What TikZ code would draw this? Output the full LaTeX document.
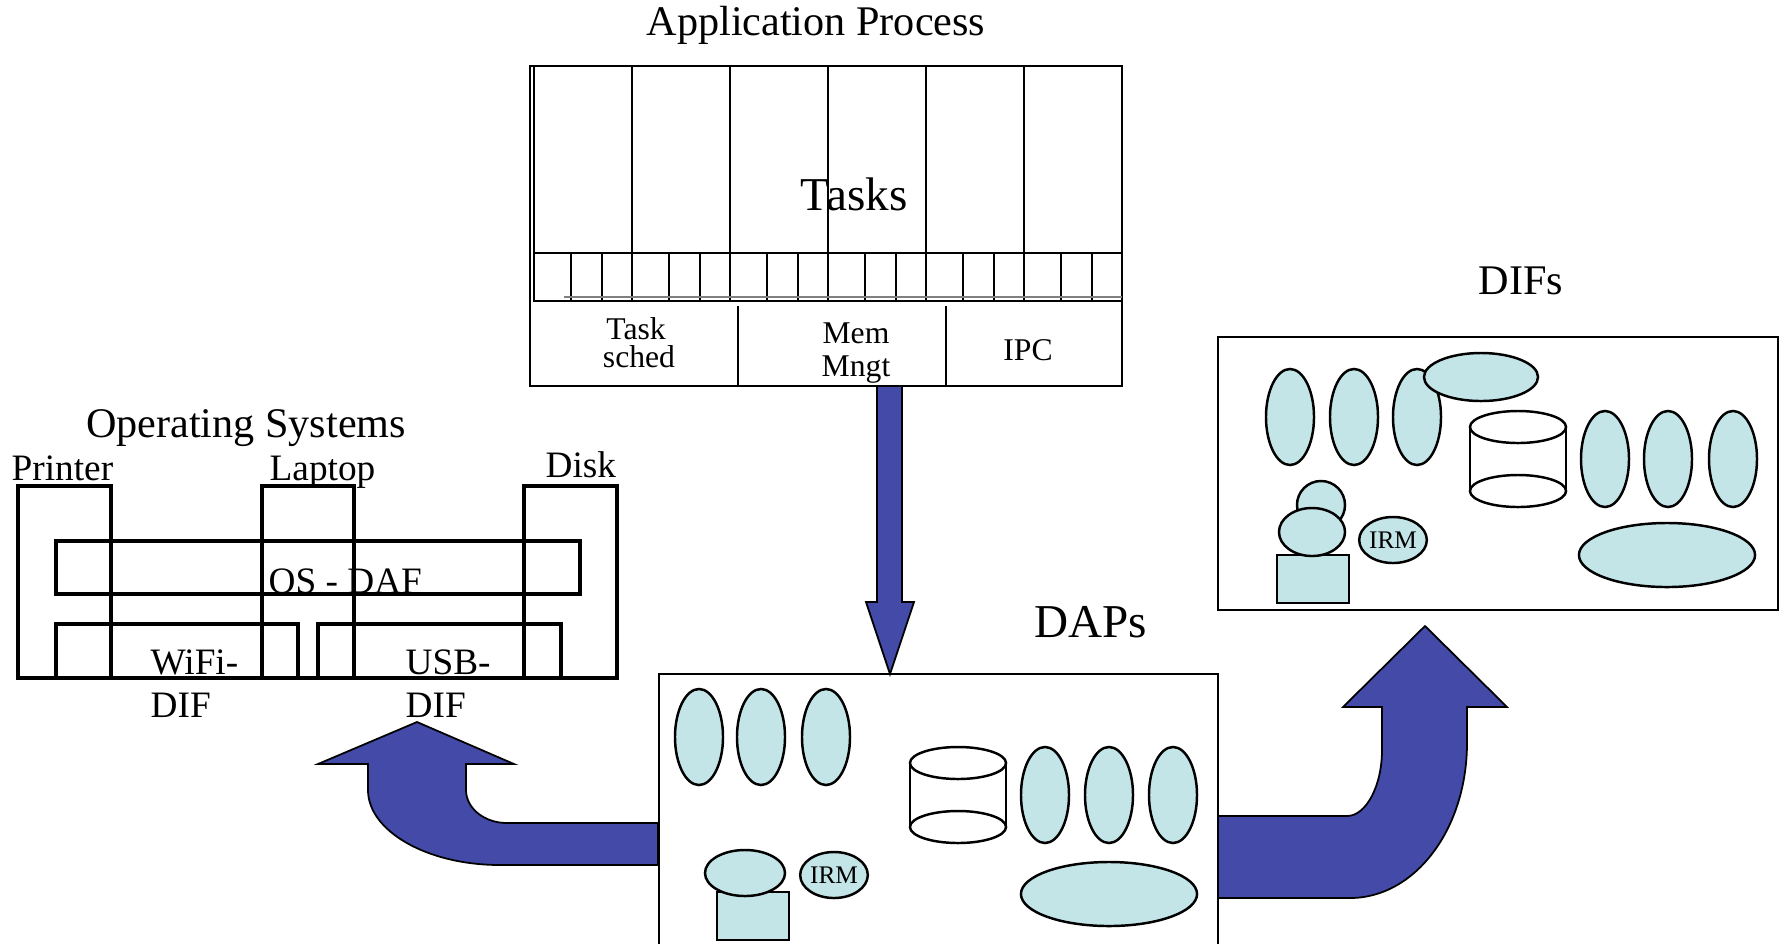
\documentclass[tikz,border=0pt]{standalone}
\usepackage{fontspec}
\setmainfont{Liberation Serif}
\usetikzlibrary{positioning,shapes.geometric}
\definecolor{arrowblue}{RGB}{67,74,168}
\definecolor{blobcyan}{RGB}{196,229,232}
\tikzset{
 frame/.style={draw=black,line width=0.7pt},
 osbox/.style={draw=black,line width=1.2pt},
 blob/.style={draw=black,line width=0.7pt,fill=blobcyan},
 drum/.style={draw=black,line width=0.7pt,fill=white},
 bigarrow/.style={draw=black,line width=0.5pt,fill=arrowblue},
 lbl/.style={inner sep=0pt,anchor=base},
 lblw/.style={inner sep=0pt,anchor=base west},
 big/.style={font=\fontsize{13.4}{15}\selectfont},
 head/.style={font=\fontsize{12}{14}\selectfont},
 dev/.style={font=\fontsize{10.6}{12}\selectfont},
 small/.style={font=\fontsize{9}{10}\selectfont},
 irm/.style={ellipse,blob,inner sep=0pt,minimum width=0.64cm,minimum height=0.46cm,font=\fontsize{7.2}{8}\selectfont}}

\begin{document}
\begin{tikzpicture}[x=0.01cm,y=-0.01cm]
\useasboundingbox (0,0) rectangle (1781,944);
% application process
\node[lbl,head] (aptitle) at (816,35) {Application Process};
\draw[frame] (530,66) rectangle (1122,386);
\draw[frame] (534,66) rectangle (1122,301);
\draw[frame] (534,253) -- (1122,253);
\foreach \cx in {632,730,828,926,1024} \draw[frame] (\cx,66) -- (\cx,301);
\foreach \cx in {534,632,730,828,926,1024} {
 \draw[frame] (\cx+37,253) -- (\cx+37,301);
 \draw[frame] (\cx+68,253) -- (\cx+68,301);}
\draw[gray,line width=0.8pt] (564,297) -- (1122,297);
\draw[frame] (738,306) -- (738,386);
\draw[frame] (946,306) -- (946,386);
\node[lbl,big] (tasks) at (854,210) {Tasks};
\node[lbl,small] (task) at (636,339) {Task};
\node[lbl,small] (sched) at (639,367) {sched};
\node[lbl,small] (mem) at (856,343) {Mem};
\node[lbl,small] (mngt) at (856,376) {Mngt};
\node[lbl,small] (ipc) at (1028,360) {IPC};
% operating systems
\node[lbl,head] (ostitle) at (246,437) {Operating Systems};
\node[lblw,dev] (printer) at (11,480) {Printer};
\node[lblw,dev] (laptop) at (269,480) {Laptop};
\node[lblw,dev] (disk) at (545,477) {Disk};
\draw[osbox] (18,486) rectangle (111,678);
\draw[osbox] (262,486) rectangle (354,678);
\draw[osbox] (524,486) rectangle (617,678);
\draw[osbox] (56,541) rectangle (580,594);
\draw[osbox] (56,624) rectangle (298,678);
\draw[osbox] (318,624) rectangle (561,678);
\node[lblw,dev] (osdaf) at (268,593) {OS - DAF};
\node[lblw,dev] (wifi) at (150,674) {WiFi-};
\node[lblw,dev] (wifidif) at (150,717) {DIF};
\node[lblw,dev] (usb) at (405,674) {USB-};
\node[lblw,dev] (usbdif) at (405,717) {DIF};
% DAPs
\node[lblw,big] (daptitle) at (1034,637) {DAPs};
\draw[frame] (659,944) -- (659,674) -- (1218,674) -- (1218,944);
\foreach \cx in {699,761,826} \draw[blob] (\cx,737) ellipse [x radius=0.24cm,y radius=0.48cm];
\foreach \cx in {1045,1109,1173} \draw[blob] (\cx,795) ellipse [x radius=0.24cm,y radius=0.48cm];
\draw[drum] (910,763) rectangle (1006,827);
\draw[drum] (958,763) ellipse [x radius=0.48cm,y radius=0.16cm];
\draw[drum] (958,827) ellipse [x radius=0.48cm,y radius=0.16cm];
\draw[blob] (1109,894) ellipse [x radius=0.88cm,y radius=0.32cm];
\draw[blob] (717,892) rectangle (789,940);
\draw[blob] (745,873) ellipse [x radius=0.40cm,y radius=0.23cm];
\node[irm] (irmdap) at (834,875) {IRM};
% DIFs
\node[lblw,head] (diftitle) at (1478,294) {DIFs};
\draw[frame] (1218,337) rectangle (1778,610);
\foreach \cx in {1290,1354,1417} \draw[blob] (\cx,417) ellipse [x radius=0.24cm,y radius=0.48cm];
\draw[blob] (1481,377) ellipse [x radius=0.57cm,y radius=0.24cm];
\draw[drum] (1470,427) rectangle (1566,491);
\draw[drum] (1518,427) ellipse [x radius=0.48cm,y radius=0.16cm];
\draw[drum] (1518,491) ellipse [x radius=0.48cm,y radius=0.16cm];
\foreach \cx in {1605,1668,1733} \draw[blob] (\cx,459) ellipse [x radius=0.24cm,y radius=0.48cm];
\draw[blob] (1667,555) ellipse [x radius=0.88cm,y radius=0.32cm];
\draw[blob] (1277,555) rectangle (1349,603);
\draw[blob] (1321,505) circle [radius=0.24cm];
\draw[blob] (1312,532) ellipse [x radius=0.33cm,y radius=0.24cm];
\node[irm] (irmdif) at (1393,540) {IRM};
% big arrows
\draw[bigarrow] (877,386) -- (902,386) -- (902,602) -- (914,602) -- (890,674)
 -- (866,602) -- (877,602) -- cycle;
\draw[bigarrow] (1218,816) -- (1347,816) .. controls (1366,816) and (1382,786) .. (1382,750)
 -- (1382,707) -- (1343,707) -- (1425,626) -- (1507,707) -- (1467,707) -- (1467,743)
 .. controls (1467,829) and (1415,898) .. (1350,898) -- (1218,898) -- cycle;
\draw[bigarrow] (658,823) -- (507,823) .. controls (484,823) and (466,808) .. (466,790)
 -- (466,764) -- (514,764) -- (417,722) -- (318,764) -- (368,764) -- (368,790)
 .. controls (368,831) and (427,865) .. (500,865) -- (658,865) -- cycle;
\end{tikzpicture}
\end{document}
